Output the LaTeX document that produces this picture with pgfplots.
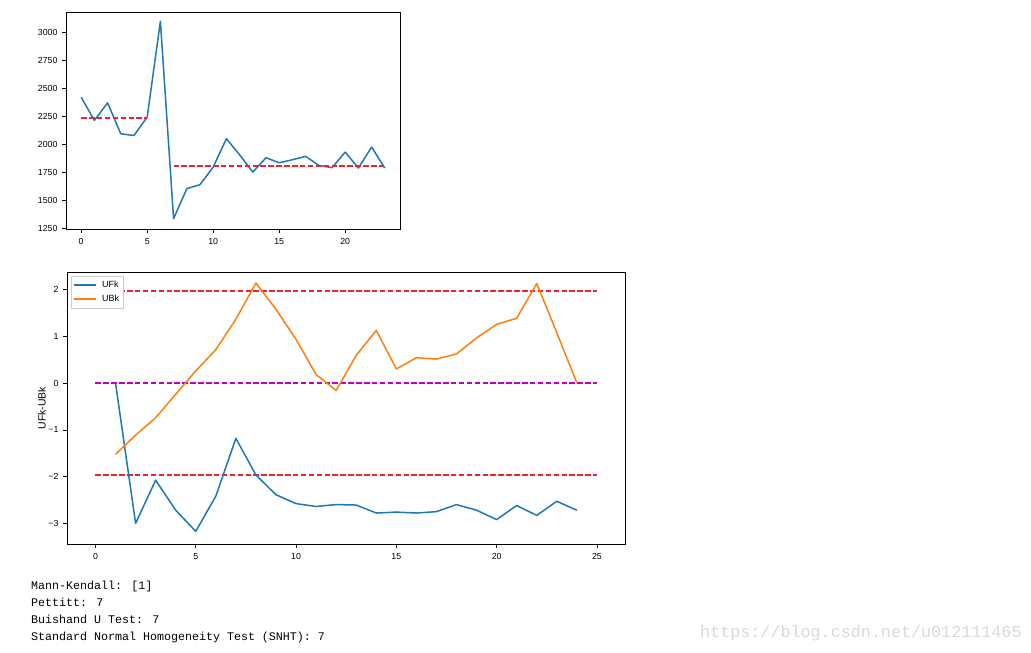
\documentclass[border=0pt]{standalone}
\usepackage{pgfplots}
\pgfplotsset{compat=1.18}
\usepackage{fontspec}
\setmainfont{Liberation Sans}
\newfontfamily\monofont{Liberation Mono}
\definecolor{mplblue}{HTML}{1F77B4}
\definecolor{mplorange}{HTML}{FF7F0E}
\definecolor{mplmag}{HTML}{BF00BF}
\definecolor{mplred}{HTML}{E8262B}
\pgfplotsset{
  mystyle/.style={
    scale only axis,
    axis line style={black, line width=0.8bp},
    every tick/.style={black, line width=0.8bp},
    tick align=outside,
    major tick length=3.5bp,
    xtick pos=bottom, ytick pos=left,
    tick label style={font=\fontsize{8.8}{10}\selectfont},
    /pgf/number format/assume math mode=true,
    /pgf/number format/1000 sep={},
    xticklabel style={yshift=-2bp},
    yticklabel style={xshift=-1.5bp},
  },
}
\tikzset{
  ser/.style={line width=1.5bp, line join=round},
  dsh/.style={line width=1.8bp, dash pattern=on 5.5bp off 2.4bp},
}
\begin{document}
\begin{tikzpicture}
\path[use as bounding box] (0,0) rectangle (1031bp,-653bp);

\begin{axis}[mystyle,
  at={(66bp,-12bp)}, anchor=north west,
  width=334bp, height=217bp,
  xmin=-1.15, xmax=24.15, ymin=1247, ymax=3180,
  xtick={0,5,10,15,20},
  ytick={1250,1500,1750,2000,2250,2500,2750,3000},
]
\addplot[ser, color=mplblue] coordinates {
(0,2421)(1,2214)(2,2371)(3,2095)(4,2080)(5,2244)(6,3098)(7,1339)(8,1606)(9,1642)
(10,1799)(11,2051)(12,1908)(13,1754)(14,1882)(15,1837)(16,1864)(17,1894)(18,1814)
(19,1793)(20,1932)(21,1790)(22,1977)(23,1790)};
\addplot[dsh, color=mplred] coordinates {(0,2235)(5,2235)};
\addplot[dsh, color=mplred] coordinates {(7,1805)(23,1805)};
\end{axis}

\begin{axis}[mystyle,
  at={(67bp,-272bp)}, anchor=north west,
  width=558bp, height=272bp,
  xmin=-1.42, xmax=26.4, ymin=-3.430, ymax=2.365,
  xtick={0,5,10,15,20,25},
  ytick={-3,-2,-1,0,1,2},
  yticklabels={−3,−2,−1,0,1,2},
  ylabel={UFk-UBk},
  ylabel style={font=\fontsize{10.5}{12}\selectfont, yshift=-4bp},
  legend style={at={(0.008,0.985)}, anchor=north west, draw=black!20,
    font=\fontsize{9}{10}\selectfont, inner xsep=2bp, inner ysep=2.5bp, row sep=2.5bp},
  legend cell align=left,
  legend image code/.code={\draw[#1] (0bp,0bp) -- (22bp,0bp);},
]
\addplot[dsh, color=mplred, forget plot] coordinates {(0,1.96)(25,1.96)};
\addplot[dsh, color=mplred, forget plot] coordinates {(0,-1.96)(25,-1.96)};
\addplot[dsh, color=mplmag, forget plot] coordinates {(0,0)(25,0)};
\addplot[ser, color=mplblue] coordinates {
(1,0)(2,-2.99)(3,-2.07)(4,-2.71)(5,-3.16)(6,-2.41)(7,-1.18)(8,-1.96)(9,-2.38)(10,-2.57)
(11,-2.63)(12,-2.59)(13,-2.60)(14,-2.77)(15,-2.75)(16,-2.77)(17,-2.74)(18,-2.59)
(19,-2.71)(20,-2.91)(21,-2.61)(22,-2.82)(23,-2.52)(24,-2.71)};
\addlegendentry{\hspace{3bp}UFk}
\addplot[ser, color=mplorange] coordinates {
(1,-1.52)(2,-1.11)(3,-0.74)(4,-0.24)(5,0.26)(6,0.71)(7,1.36)(8,2.13)(9,1.57)(10,0.93)
(11,0.18)(12,-0.16)(13,0.59)(14,1.12)(15,0.30)(16,0.54)(17,0.51)(18,0.62)(19,0.96)
(20,1.25)(21,1.38)(22,2.12)(23,1.07)(24,0.0)};
\addlegendentry{\hspace{3bp}UBk}
\end{axis}

\begin{scope}[every node/.style={anchor=base west, inner sep=0pt, font=\monofont\fontsize{11.7}{13}\selectfont}]
\node at (31bp,-589bp) {Mann-Kendall: [1]};
\node at (31bp,-606bp) {Pettitt: 7};
\node at (31bp,-623bp) {Buishand U Test: 7};
\node at (31bp,-640bp) {Standard Normal Homogeneity Test (SNHT): 7};
\end{scope}
\node[anchor=west, inner sep=0pt, text=black!15, font=\monofont\fontsize{16.8}{18}\selectfont] at (700bp,-633bp) {https://blog.csdn.net/u012111465};
\end{tikzpicture}
\end{document}
